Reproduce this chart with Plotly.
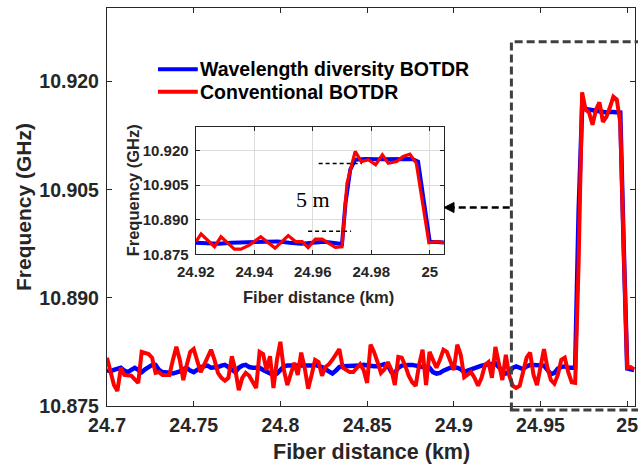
import plotly.graph_objects as go

# ---------------- data ----------------
dist_km = [
    24.700, 24.702, 24.704, 24.706, 24.708, 24.710, 24.712, 24.714, 24.716, 24.718,
    24.720, 24.722, 24.724, 24.726, 24.728, 24.730, 24.732, 24.734, 24.736, 24.738,
    24.740, 24.742, 24.744, 24.746, 24.748, 24.750, 24.752, 24.754, 24.756, 24.758,
    24.760, 24.762, 24.764, 24.766, 24.768, 24.770, 24.772, 24.774, 24.776, 24.778,
    24.780, 24.782, 24.784, 24.786, 24.788, 24.790, 24.792, 24.794, 24.796, 24.798,
    24.800, 24.802, 24.804, 24.806, 24.808, 24.810, 24.812, 24.814, 24.816, 24.818,
    24.820, 24.822, 24.824, 24.826, 24.828, 24.830, 24.832, 24.834, 24.836, 24.838,
    24.840, 24.842, 24.844, 24.846, 24.848, 24.850, 24.852, 24.854, 24.856, 24.858,
    24.860, 24.862, 24.864, 24.866, 24.868, 24.870, 24.872, 24.874, 24.876, 24.878,
    24.880, 24.882, 24.884, 24.886, 24.888, 24.890, 24.892, 24.894, 24.896, 24.898,
    24.900, 24.902, 24.904, 24.906, 24.908, 24.910, 24.912, 24.914, 24.916, 24.918,
    24.920, 24.922, 24.924, 24.926, 24.928, 24.930, 24.932, 24.934, 24.936, 24.938,
    24.940, 24.942, 24.944, 24.946, 24.948, 24.950, 24.952, 24.954, 24.956, 24.958,
    24.960, 24.962, 24.964, 24.966, 24.968, 24.970, 24.972, 24.974, 24.976, 24.978,
    24.980, 24.982, 24.984, 24.986, 24.988, 24.990, 24.992, 24.994, 24.996, 24.998,
    25.000, 25.002, 25.004,
]

wd_botdr_ghz = [
    10.8800, 10.8798, 10.8800, 10.8802, 10.8803, 10.8799, 10.8797, 10.8800, 10.8803, 10.8800,
    10.8797, 10.8801, 10.8805, 10.8807, 10.8807, 10.8800, 10.8797, 10.8797, 10.8796, 10.8795,
    10.8796, 10.8798, 10.8801, 10.8803, 10.8799, 10.8797, 10.8800, 10.8804, 10.8805, 10.8806,
    10.8803, 10.8803, 10.8804, 10.8806, 10.8807, 10.8804, 10.8801, 10.8797, 10.8803, 10.8806,
    10.8807, 10.8804, 10.8803, 10.8803, 10.8803, 10.8800, 10.8798, 10.8795, 10.8793, 10.8795,
    10.8800, 10.8805, 10.8806, 10.8806, 10.8805, 10.8805, 10.8806, 10.8806, 10.8806, 10.8806,
    10.8807, 10.8806, 10.8804, 10.8801, 10.8797, 10.8795, 10.8799, 10.8804, 10.8805, 10.8805,
    10.8805, 10.8805, 10.8805, 10.8806, 10.8807, 10.8806, 10.8805, 10.8805, 10.8805, 10.8807,
    10.8808, 10.8806, 10.8797, 10.8796, 10.8803, 10.8806, 10.8807, 10.8807, 10.8807, 10.8806,
    10.8804, 10.8803, 10.8803, 10.8803, 10.8797, 10.8795, 10.8796, 10.8799, 10.8801, 10.8803,
    10.8803, 10.8803, 10.8801, 10.8797, 10.8799, 10.8801, 10.8803, 10.8805, 10.8806, 10.8807,
    10.8808, 10.8808, 10.8809, 10.8804, 10.8798, 10.8795, 10.8797, 10.8803, 10.8805, 10.8803,
    10.8801, 10.8805, 10.8807, 10.8807, 10.8807, 10.8807, 10.8806, 10.8800, 10.8794, 10.8796,
    10.8802, 10.8804, 10.8805, 10.8803, 10.8803, 10.8803, 10.9020, 10.9163, 10.9162, 10.9161,
    10.9160, 10.9159, 10.9158, 10.9158, 10.9157, 10.9158, 10.9158, 10.9158, 10.9157, 10.8970,
    10.8802, 10.8801, 10.8800,
]

conv_botdr_ghz = [
    10.8817, 10.8800, 10.8779, 10.8771, 10.8803, 10.8793, 10.8793, 10.8792, 10.8787, 10.8782,
    10.8825, 10.8824, 10.8822, 10.8817, 10.8796, 10.8797, 10.8793, 10.8793, 10.8793, 10.8814,
    10.8832, 10.8814, 10.8786, 10.8807, 10.8825, 10.8829, 10.8814, 10.8797, 10.8807, 10.8818,
    10.8828, 10.8814, 10.8796, 10.8789, 10.8785, 10.8789, 10.8819, 10.8800, 10.8772, 10.8789,
    10.8796, 10.8792, 10.8782, 10.8775, 10.8825, 10.8822, 10.8800, 10.8819, 10.8775, 10.8814,
    10.8839, 10.8800, 10.8779, 10.8797, 10.8810, 10.8793, 10.8824, 10.8803, 10.8774, 10.8793,
    10.8814, 10.8811, 10.8792, 10.8804, 10.8808, 10.8814, 10.8821, 10.8829, 10.8803, 10.8800,
    10.8797, 10.8797, 10.8803, 10.8808, 10.8800, 10.8782, 10.8835, 10.8825, 10.8811, 10.8796,
    10.8801, 10.8811, 10.8800, 10.8779, 10.8818, 10.8817, 10.8806, 10.8792, 10.8783, 10.8778,
    10.8807, 10.8828, 10.8779, 10.8825, 10.8814, 10.8803, 10.8814, 10.8828, 10.8825, 10.8811,
    10.8800, 10.8835, 10.8821, 10.8790, 10.8793, 10.8797, 10.8789, 10.8778, 10.8789, 10.8807,
    10.8811, 10.8789, 10.8832, 10.8807, 10.8786, 10.8821, 10.8792, 10.8778, 10.8775, 10.8778,
    10.8797, 10.8817, 10.8824, 10.8793, 10.8779, 10.8807, 10.8829, 10.8803, 10.8786, 10.8781,
    10.8793, 10.8814, 10.8817, 10.8797, 10.8783, 10.8782, 10.8950, 10.9185, 10.9161, 10.9157,
    10.9140, 10.9161, 10.9171, 10.9144, 10.9151, 10.9164, 10.9179, 10.9175, 10.9143, 10.8966,
    10.8803, 10.8804, 10.8801,
]

# inset (zoom of the transition region)
inset_wd_km = [24.920, 24.924, 24.928, 24.932, 24.936, 24.940, 24.944, 24.948, 24.952,
               24.956, 24.960, 24.964, 24.968, 24.970, 24.9712, 24.9728, 24.9745, 24.978,
               24.982, 24.986, 24.990, 24.994, 24.996, 25.000, 25.0025, 25.005]
inset_wd_ghz = [10.8800, 10.8796, 10.8796, 10.8800, 10.8802, 10.8802, 10.8804, 10.8806, 10.8800,
                10.8796, 10.8800, 10.8804, 10.8798, 10.8795, 10.8972, 10.9116, 10.9160, 10.9163,
                10.9162, 10.9161, 10.9162, 10.9163, 10.9152, 10.8804, 10.8803, 10.8801]

inset_conv_km = [24.9201, 24.9218, 24.9264, 24.9286, 24.9332, 24.9354, 24.9383, 24.9422,
                 24.9471, 24.9516, 24.9541, 24.9564, 24.9584, 24.9609, 24.9632, 24.9654,
                 24.9677, 24.9700, 24.9717, 24.9745, 24.9766, 24.9790, 24.9815, 24.9838,
                 24.9858, 24.9887, 24.9909, 24.9932, 24.9954, 24.9997, 25.0022, 25.0050]
inset_conv_ghz = [10.8805, 10.8838, 10.8783, 10.8826, 10.8772, 10.8772, 10.8790, 10.8826,
                  10.8777, 10.8831, 10.8805, 10.8805, 10.8779, 10.8816, 10.8816, 10.8798,
                  10.8780, 10.8783, 10.9058, 10.9196, 10.9152, 10.9160, 10.9138, 10.9181,
                  10.9145, 10.9152, 10.9174, 10.9184, 10.9145, 10.8800, 10.8805, 10.8800]

x_tickvals = [24.7, 24.75, 24.8, 24.85, 24.9, 24.95, 25.0]
x_ticktext = ["24.7", "24.75", "24.8", "24.85", "24.9", "24.95", "25"]
y_tickvals = [10.875, 10.890, 10.905, 10.920]
y_ticktext = ["10.875", "10.890", "10.905", "10.920"]
inset_x_tickvals = [24.92, 24.94, 24.96, 24.98, 25.0]
inset_x_ticktext = ["24.92", "24.94", "24.96", "24.98", "25"]

series_names = ["Wavelength diversity BOTDR", "Conventional BOTDR"]

# ---------------- styling ----------------
W, H = 638, 468
ML, MR, MT, MB = 107, 0, 8, 62
PW, PH = W - ML - MR, H - MT - MB
FONT = "Liberation Sans, Arial, Helvetica, sans-serif"
INK = "#262626"
BLUE = "#0000ff"
RED = "#ff0000"


def px(X):  # pixel -> paper x
    return (X - ML) / PW


def py(Y):  # pixel -> paper y
    return (H - MB - Y) / PH


fig = go.Figure()
fig.add_trace(go.Scatter(x=dist_km, y=wd_botdr_ghz, mode="lines", name=series_names[0],
                         line=dict(color=BLUE, width=4.5), xaxis="x", yaxis="y", showlegend=False))
fig.add_trace(go.Scatter(x=dist_km, y=conv_botdr_ghz, mode="lines", name=series_names[1],
                         line=dict(color=RED, width=4), xaxis="x", yaxis="y", showlegend=False))
fig.add_trace(go.Scatter(x=inset_wd_km, y=inset_wd_ghz, mode="lines", showlegend=False,
                         name=series_names[0],
                         line=dict(color=BLUE, width=4), xaxis="x2", yaxis="y2"))
fig.add_trace(go.Scatter(x=inset_conv_km, y=inset_conv_ghz, mode="lines", showlegend=False,
                         name=series_names[1],
                         line=dict(color=RED, width=3.2), xaxis="x2", yaxis="y2"))

axis_common = dict(ticks="inside", tickcolor=INK, tickwidth=1.2, showline=True,
                   linecolor=INK, linewidth=1.3, mirror="ticks", zeroline=False,
                   ticklabeloverflow="allow")

fig.update_layout(
    width=W, height=H,
    margin=dict(l=ML, r=MR, t=MT, b=MB, pad=0),
    paper_bgcolor="white", plot_bgcolor="white",
    font=dict(family=FONT, color=INK),
    xaxis=dict(domain=[0, 1], range=[24.7, 25.0045], tickvals=x_tickvals, ticktext=x_ticktext,
               ticklen=5, showgrid=False, ticklabelstandoff=1,
               tickfont=dict(size=19.5, weight=700, color=INK, family=FONT), **axis_common),
    yaxis=dict(domain=[0, 1], range=[10.875, 10.9302], tickvals=y_tickvals, ticktext=y_ticktext,
               ticklen=5, showgrid=False, ticklabelstandoff=3,
               tickfont=dict(size=19.5, weight=700, color=INK, family=FONT), **axis_common),
    xaxis2=dict(domain=[px(196.3), px(445.7)], anchor="y2", range=[24.92, 25.0048],
                tickvals=inset_x_tickvals, ticktext=inset_x_ticktext, ticklen=4,
                showgrid=True, gridcolor="#dcdcdc", gridwidth=1, ticklabelstandoff=4,
                tickfont=dict(size=15, weight=700, color=INK, family=FONT), **axis_common),
    yaxis2=dict(domain=[py(254.3), py(126.7)], anchor="x2", range=[10.875, 10.9303],
                tickvals=y_tickvals, ticktext=y_ticktext, ticklen=4,
                showgrid=True, gridcolor="#dcdcdc", gridwidth=1, ticklabelstandoff=3,
                tickfont=dict(size=15, weight=700, color=INK, family=FONT), **axis_common),
    showlegend=False,
)

LEG_FONT = dict(size=19.5, weight=700, color="black", family=FONT)
annotations = [
    dict(text="Frequency (GHz)", xref="paper", yref="paper", x=0, y=0.5, xshift=-84,
         textangle=-90, showarrow=False, xanchor="center", yanchor="middle",
         font=dict(size=21, weight=700, color=INK, family=FONT)),
    dict(text="Fiber distance (km)", xref="paper", yref="paper", x=0.5, y=0, yshift=-46,
         showarrow=False, xanchor="center", yanchor="middle",
         font=dict(size=21.5, weight=700, color=INK, family=FONT)),
    dict(text="Frequency (GHz)", xref="paper", yref="paper", x=px(134), y=py(190.5),
         textangle=-90, showarrow=False, xanchor="center", yanchor="middle",
         font=dict(size=16.5, weight=700, color=INK, family=FONT)),
    dict(text="Fiber distance (km)", xref="paper", yref="paper", x=px(320), y=py(296.7),
         showarrow=False, xanchor="center", yanchor="middle",
         font=dict(size=16.5, weight=700, color=INK, family=FONT)),
    dict(text="5 m", xref="paper", yref="paper", x=px(314.3), y=py(199),
         showarrow=False, xanchor="center", yanchor="middle",
         font=dict(size=22, color="black", family="Liberation Serif, Times New Roman, serif")),
    # legend texts
    dict(text=series_names[0], xref="paper", yref="paper", x=px(199), y=py(69.3),
         showarrow=False, xanchor="left", yanchor="middle", font=LEG_FONT),
    dict(text=series_names[1], xref="paper", yref="paper", x=px(199), y=py(91.7),
         showarrow=False, xanchor="left", yanchor="middle", font=LEG_FONT),
]
fig.update_layout(annotations=annotations)

shapes = [
    # legend line samples
    dict(type="line", xref="paper", yref="paper", x0=px(158.3), x1=px(198.3), y0=py(69.3), y1=py(69.3),
         line=dict(color=BLUE, width=4), layer="above"),
    dict(type="line", xref="paper", yref="paper", x0=px(158.3), x1=px(198.3), y0=py(91.7), y1=py(91.7),
         line=dict(color=RED, width=4), layer="above"),
    # dashed zoom box
    dict(type="rect", xref="paper", yref="paper", x0=px(513.7), x1=px(660), y0=py(410), y1=py(41.7),
         line=dict(color="#404040", width=3, dash="8px,4px"), fillcolor="rgba(0,0,0,0)", layer="above"),
    # dashed arrow shaft
    dict(type="line", xref="paper", yref="paper", x0=px(512), x1=px(454), y0=py(207.5), y1=py(207.5),
         line=dict(color="black", width=2.5, dash="7px,4px"), layer="above"),
    # arrow head
    dict(type="path", xref="paper", yref="paper",
         path=f"M{px(446)},{py(207.5)} L{px(456)},{py(202.5)} L{px(456)},{py(212.5)} Z",
         fillcolor="black", line=dict(color="black", width=1), layer="above"),
    # 5 m marker lines in inset
    dict(type="line", xref="x2", yref="y2", x0=24.962, x1=24.9768, y0=10.9144, y1=10.9144,
         line=dict(color="black", width=1.5, dash="4px,3px"), layer="above"),
    dict(type="line", xref="x2", yref="y2", x0=24.9584, x1=24.9731, y0=10.8850, y1=10.8850,
         line=dict(color="black", width=1.5, dash="4px,3px"), layer="above"),
]
fig.update_layout(shapes=shapes)

fig.write_html("out.html", config={"displayModeBar": False},
               post_script="document.body.style.margin='0';")
